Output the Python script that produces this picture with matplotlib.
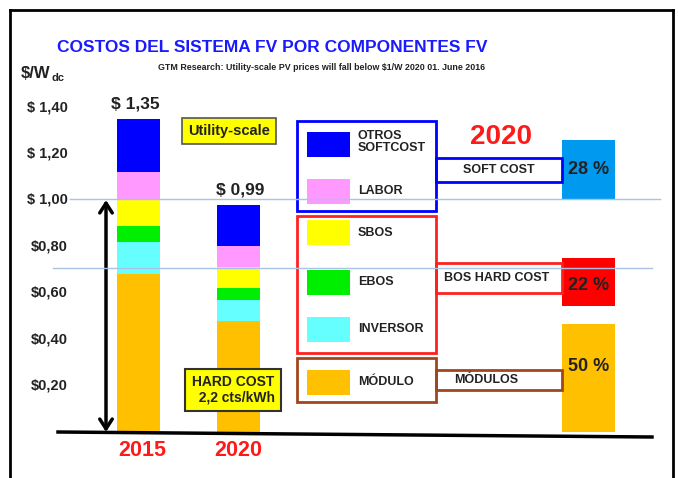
import matplotlib
matplotlib.use("Agg")
import matplotlib.pyplot as plt
from matplotlib.patches import Rectangle
from matplotlib.lines import Line2D

plt.rcParams['font.family'] = ['Liberation Sans', 'DejaVu Sans']
plt.rcParams['font.weight'] = 'bold'

# data ($/Wdc), stacked bottom -> top
years = ["2015", "2020"]
componentes = ["MÓDULO", "INVERSOR", "EBOS", "SBOS", "LABOR", "OTROS\nSOFTCOST"]
valores_2015 = [0.68, 0.14, 0.07, 0.11, 0.12, 0.23]
valores_2020 = [0.48, 0.09, 0.05, 0.09, 0.09, 0.18]
totales = ["$ 1,35", "$ 0,99"]
yticks = [0.20, 0.40, 0.60, 0.80, 1.00, 1.20, 1.40]
ytick_labels = ["$0,20", "$0,40", "$0,60", "$0,80", "$ 1,00", "$ 1,20", "$ 1,40"]

# share of 2020 cost
grupos = ["MÓDULOS", "BOS HARD COST", "SOFT COST"]
pct_2020 = [50, 22, 28]

colores = ["#ffc000", "#66ffff", "#00ee00", "#ffff00", "#ff99ff", "#0000ff"]
col_grupos = ["#ffc000", "#ff0000", "#0099f0"]
col_cajas = ["#a0461e", "#ff2020", "#0000ff"]

W, H = 678, 478
fig = plt.figure(figsize=(W / 100, H / 100), dpi=100)
ax = fig.add_axes([0, 0, 1, 1])
# 1 x-unit = 100 px, 1 $ = 232 px, zero at pixel row 432
ax.set_xlim(-1.385, (W - 138.5) / 100)
ax.set_ylim(-(H - 432) / 232, 432 / 232)
ax.axis('off')


def px(x, y):
    return (x / W, 1 - y / H)


def ypx(v):
    return 432 - v * 232


# frame
for xs, ys in [([10, 10], [10, H]), ([10, 673], [10, 10]), ([673, 673], [10, H])]:
    fig.add_artist(Line2D([x / W for x in xs], [1 - y / H for y in ys], color='black', lw=2))

# light blue guide lines
fig.add_artist(Line2D([70 / W, 660 / W], [1 - 199 / H] * 2, color='#a9c2e6', lw=1))
fig.add_artist(Line2D([53 / W, 652 / W], [1 - 268 / H] * 2, color='#a9c2e6', lw=1))

# stacked bars
for i, vals in enumerate([valores_2015, valores_2020]):
    bottom = 0
    for v, c in zip(vals, colores):
        ax.bar(i, v, bottom=bottom, width=0.43, color=c, zorder=3)
        bottom += v
    ax.text(i - 0.03 if i == 0 else i + 0.02, bottom + 0.03, totales[i], ha='center', va='bottom',
            fontsize=12.5, color='#222222')
    fig.text(*px(142 + i * 96, 450), years[i], ha='center', va='center', fontsize=15.5,
             color='#ff1a1a')

# y labels
for v, lab in zip(yticks, ytick_labels):
    fig.text(*px(68, ypx(v)), lab, ha='right', va='center', fontsize=10.5, color='#222222')

# 2020 share blocks
bases = [0.0, 0.545, 1.0]
for p, b, c in zip(pct_2020, bases, col_grupos):
    h = p * 0.0093
    ax.bar(4.5, h, bottom=b, width=0.53, color=c, zorder=3)
    ax.text(4.5, b + h / 2 + (0.05 if p == 50 else -0.015 if p == 22 else 0), f"{p} %",
            ha='center', va='center', fontsize=13, color='#222222', zorder=4)

# baseline and arrow
fig.add_artist(Line2D([58 / W, 652 / W], [1 - 432 / H, 1 - 437 / H], color='black', lw=2.5))
ax.annotate("", xy=(-0.325, 0), xytext=(-0.325, 1.0),
            arrowprops=dict(arrowstyle='<->,head_length=0.7,head_width=0.45', lw=2.5,
                            color='black', shrinkA=0, shrinkB=0))

# titles
fig.text(*px(272, 47), "COSTOS DEL SISTEMA FV POR COMPONENTES FV", ha='center', va='center',
         fontsize=12.5, color='#1a1aff')
fig.text(*px(322, 67), "GTM Research: Utility-scale PV prices will fall below $1/W 2020 01. June 2016",
         ha='center', va='center', fontsize=6.4, color='#222222')
fig.text(*px(21, 74), "$/W", ha='left', va='center', fontsize=12, color='#222222')
fig.text(*px(51, 78), "dc", ha='left', va='center', fontsize=8, color='#222222')

# yellow notes
fig.text(*px(229, 131), "Utility-scale", ha='center', va='center', fontsize=10.5, color='#222222',
         bbox=dict(boxstyle='square,pad=0.4', fc='#ffff00', ec='#555555', lw=1.2))
fig.text(*px(233, 390), "HARD COST\n  2,2 cts/kWh", ha='center', va='center', fontsize=10,
         color='#222222', linespacing=1.1,
         bbox=dict(boxstyle='square,pad=0.45', fc='#ffff00', ec='#333333', lw=1.5))

# legend swatches and labels
sw_y = [382, 329, 282, 233, 191, 144]
for lab, c, y in zip(componentes, colores, sw_y):
    fig.add_artist(Rectangle(px(307, y + 12.5), 43 / W, 25 / H, transform=fig.transFigure,
                             fc=c, ec='none'))
    fig.text(*px(358, y - 2 if '\n' in lab else y), lab, ha='left', va='center', fontsize=9,
             color='#222222', linespacing=1.0)

# group boxes (bottom -> top: modulos, bos, soft)
caja_y = [(358, 402), (216, 353), (121, 211)]
conn_y = [(370, 390), (263, 293), (158, 182)]
conn_tx = [486, 497, 499]
for g, c, (y0, y1), (c0, c1), tx in zip(grupos, col_cajas, caja_y, conn_y, conn_tx):
    fig.add_artist(Rectangle(px(297, y1), 139 / W, (y1 - y0) / H, transform=fig.transFigure,
                             fc='none', ec=c, lw=2))
    fig.add_artist(Rectangle(px(436, c1), 126 / W, (c1 - c0) / H, transform=fig.transFigure,
                             fc='none', ec=c, lw=2))
    fig.text(*px(tx, (c0 + c1) / 2), g, ha='center', va='center', fontsize=9, color='#222222')

fig.text(*px(501, 137), "2020", ha='center', va='center', fontsize=20, color='#ff1a1a')

fig.savefig("out.png", dpi=100)
